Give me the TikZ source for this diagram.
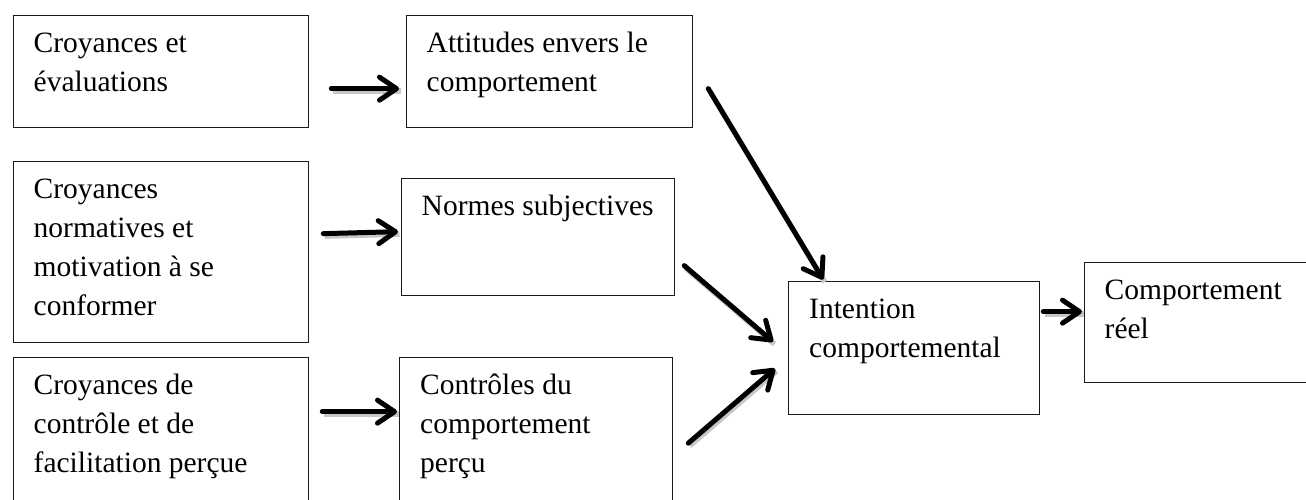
\documentclass[tikz,border=0pt]{standalone}
\usepackage{fontspec}
\setmainfont{Liberation Serif}
\usetikzlibrary{arrows.meta}
\tikzset{
  box/.style={draw=black!90, line width=1.3pt, rectangle, anchor=north west, inner sep=0pt},
  txt/.style={anchor=north west, inner sep=0pt, align=left, font=\fontsize{29.5}{39}\selectfont},
  arr/.style={line width=5pt, -{Straight Barb[length=17pt,width=23pt,line join=round,line cap=round]},
    line cap=round, preaction={draw=black!22, line width=5.5pt, -, transform canvas={shift={(1.5pt,-2.5pt)}}}}
}
\begin{document}
\begin{tikzpicture}[x=1pt,y=-1pt]
\useasboundingbox (0,0) rectangle (1306,499);
% boxes
\node[box, minimum width=295pt, minimum height=112pt] (a1) at (13,15) {};
\node[box, minimum width=286pt, minimum height=112pt] (a2) at (406,15) {};
\node[box, minimum width=295pt, minimum height=181pt] (b1) at (13,161) {};
\node[box, minimum width=273pt, minimum height=117pt] (b2) at (401,178) {};
\node[box, minimum width=295pt, minimum height=170pt] (c1) at (13,357) {};
\node[box, minimum width=272.5pt, minimum height=170pt] (c2) at (399,357) {};
\node[box, minimum width=251pt, minimum height=133pt] (in) at (788,281) {};
\node[box, minimum width=240pt, minimum height=120pt] (re) at (1084,262) {};
% texts
\node[txt] (ta1) at ([shift={(20.5pt,-9.7pt)}]a1.north west) {\strut Croyances et\\évaluations};
\node[txt] (ta2) at ([shift={(20.5pt,-9.7pt)}]a2.north west) {\strut Attitudes envers le\\comportement};
\node[txt] (tb1) at ([shift={(20.5pt,-9.7pt)}]b1.north west) {\strut Croyances\\normatives et\\motivation à se\\conformer};
\node[txt] (tb2) at ([shift={(20.5pt,-9.7pt)}]b2.north west) {\strut Normes subjectives};
\node[txt] (tc1) at ([shift={(20.5pt,-9.7pt)}]c1.north west) {\strut Croyances de\\contrôle et de\\facilitation perçue};
\node[txt] (tc2) at ([shift={(21pt,-9.7pt)}]c2.north west) {\strut Contrôles du\\comportement\\perçu};
\node[txt] (tin) at ([shift={(21pt,-9.7pt)}]in.north west) {\strut Intention\\comportemental};
\node[txt] (tre) at ([shift={(20.5pt,-9.7pt)}]re.north west) {\strut Comportement\\réel};
% arrows
\draw[arr] ([shift={(22pt,-17pt)}]a1.east) -- ([shift={(-7pt,-17pt)}]a2.west);
\draw[arr] ([shift={(14pt,18.5pt)}]b1.east) -- ([shift={(-3pt,5.5pt)}]b2.west);
\draw[arr] ([shift={(13pt,31pt)}]c1.east) -- ([shift={(-2pt,31pt)}]c2.west);
\draw[arr] ([shift={(15pt,-17pt)}]a2.east) -- ([shift={(-91pt,1.5pt)}]in.north);
\draw[arr] ([shift={(9pt,-28.5pt)}]b2.east) -- ([shift={(-15pt,6.5pt)}]in.west);
\draw[arr] ([shift={(15.5pt,-0.5pt)}]c2.east) -- ([shift={(-13pt,-20.5pt)}]in.west);
\draw[arr] ([shift={(3pt,36.5pt)}]in.east) -- ([shift={(-2pt,11pt)}]re.west);
\end{tikzpicture}
\end{document}
